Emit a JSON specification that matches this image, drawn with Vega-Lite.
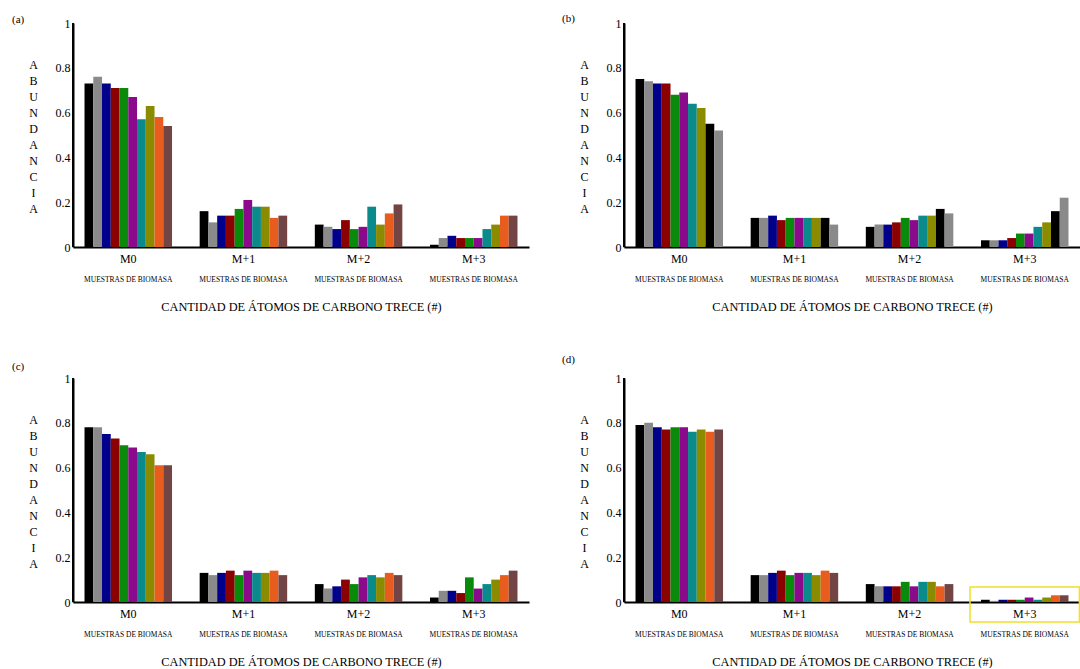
{
  "$schema": "https://vega.github.io/schema/vega-lite/v6.json",
  "background": "white",
  "padding": {"left": 12, "top": 12, "right": 0, "bottom": 0},
  "config": {
    "font": "Liberation Serif",
    "view": {"stroke": null},
    "axis": {"grid": false}
  },
  "datasets": {
    "a": [
      {"grupo": "M0", "muestra": 1, "abundancia": 0.73}, {"grupo": "M0", "muestra": 2, "abundancia": 0.76}, {"grupo": "M0", "muestra": 3, "abundancia": 0.73}, {"grupo": "M0", "muestra": 4, "abundancia": 0.71}, {"grupo": "M0", "muestra": 5, "abundancia": 0.71}, {"grupo": "M0", "muestra": 6, "abundancia": 0.67}, {"grupo": "M0", "muestra": 7, "abundancia": 0.57}, {"grupo": "M0", "muestra": 8, "abundancia": 0.63}, {"grupo": "M0", "muestra": 9, "abundancia": 0.58}, {"grupo": "M0", "muestra": 10, "abundancia": 0.54},
      {"grupo": "M+1", "muestra": 1, "abundancia": 0.16}, {"grupo": "M+1", "muestra": 2, "abundancia": 0.11}, {"grupo": "M+1", "muestra": 3, "abundancia": 0.14}, {"grupo": "M+1", "muestra": 4, "abundancia": 0.14}, {"grupo": "M+1", "muestra": 5, "abundancia": 0.17}, {"grupo": "M+1", "muestra": 6, "abundancia": 0.21}, {"grupo": "M+1", "muestra": 7, "abundancia": 0.18}, {"grupo": "M+1", "muestra": 8, "abundancia": 0.18}, {"grupo": "M+1", "muestra": 9, "abundancia": 0.13}, {"grupo": "M+1", "muestra": 10, "abundancia": 0.14},
      {"grupo": "M+2", "muestra": 1, "abundancia": 0.10}, {"grupo": "M+2", "muestra": 2, "abundancia": 0.09}, {"grupo": "M+2", "muestra": 3, "abundancia": 0.08}, {"grupo": "M+2", "muestra": 4, "abundancia": 0.12}, {"grupo": "M+2", "muestra": 5, "abundancia": 0.08}, {"grupo": "M+2", "muestra": 6, "abundancia": 0.09}, {"grupo": "M+2", "muestra": 7, "abundancia": 0.18}, {"grupo": "M+2", "muestra": 8, "abundancia": 0.10}, {"grupo": "M+2", "muestra": 9, "abundancia": 0.15}, {"grupo": "M+2", "muestra": 10, "abundancia": 0.19},
      {"grupo": "M+3", "muestra": 1, "abundancia": 0.01}, {"grupo": "M+3", "muestra": 2, "abundancia": 0.04}, {"grupo": "M+3", "muestra": 3, "abundancia": 0.05}, {"grupo": "M+3", "muestra": 4, "abundancia": 0.04}, {"grupo": "M+3", "muestra": 5, "abundancia": 0.04}, {"grupo": "M+3", "muestra": 6, "abundancia": 0.04}, {"grupo": "M+3", "muestra": 7, "abundancia": 0.08}, {"grupo": "M+3", "muestra": 8, "abundancia": 0.10}, {"grupo": "M+3", "muestra": 9, "abundancia": 0.14}, {"grupo": "M+3", "muestra": 10, "abundancia": 0.14}
    ],
    "b": [
      {"grupo": "M0", "muestra": 1, "abundancia": 0.75}, {"grupo": "M0", "muestra": 2, "abundancia": 0.74}, {"grupo": "M0", "muestra": 3, "abundancia": 0.73}, {"grupo": "M0", "muestra": 4, "abundancia": 0.73}, {"grupo": "M0", "muestra": 5, "abundancia": 0.68}, {"grupo": "M0", "muestra": 6, "abundancia": 0.69}, {"grupo": "M0", "muestra": 7, "abundancia": 0.64}, {"grupo": "M0", "muestra": 8, "abundancia": 0.62}, {"grupo": "M0", "muestra": 9, "abundancia": 0.55}, {"grupo": "M0", "muestra": 10, "abundancia": 0.52},
      {"grupo": "M+1", "muestra": 1, "abundancia": 0.13}, {"grupo": "M+1", "muestra": 2, "abundancia": 0.13}, {"grupo": "M+1", "muestra": 3, "abundancia": 0.14}, {"grupo": "M+1", "muestra": 4, "abundancia": 0.12}, {"grupo": "M+1", "muestra": 5, "abundancia": 0.13}, {"grupo": "M+1", "muestra": 6, "abundancia": 0.13}, {"grupo": "M+1", "muestra": 7, "abundancia": 0.13}, {"grupo": "M+1", "muestra": 8, "abundancia": 0.13}, {"grupo": "M+1", "muestra": 9, "abundancia": 0.13}, {"grupo": "M+1", "muestra": 10, "abundancia": 0.10},
      {"grupo": "M+2", "muestra": 1, "abundancia": 0.09}, {"grupo": "M+2", "muestra": 2, "abundancia": 0.10}, {"grupo": "M+2", "muestra": 3, "abundancia": 0.10}, {"grupo": "M+2", "muestra": 4, "abundancia": 0.11}, {"grupo": "M+2", "muestra": 5, "abundancia": 0.13}, {"grupo": "M+2", "muestra": 6, "abundancia": 0.12}, {"grupo": "M+2", "muestra": 7, "abundancia": 0.14}, {"grupo": "M+2", "muestra": 8, "abundancia": 0.14}, {"grupo": "M+2", "muestra": 9, "abundancia": 0.17}, {"grupo": "M+2", "muestra": 10, "abundancia": 0.15},
      {"grupo": "M+3", "muestra": 1, "abundancia": 0.03}, {"grupo": "M+3", "muestra": 2, "abundancia": 0.03}, {"grupo": "M+3", "muestra": 3, "abundancia": 0.03}, {"grupo": "M+3", "muestra": 4, "abundancia": 0.04}, {"grupo": "M+3", "muestra": 5, "abundancia": 0.06}, {"grupo": "M+3", "muestra": 6, "abundancia": 0.06}, {"grupo": "M+3", "muestra": 7, "abundancia": 0.09}, {"grupo": "M+3", "muestra": 8, "abundancia": 0.11}, {"grupo": "M+3", "muestra": 9, "abundancia": 0.16}, {"grupo": "M+3", "muestra": 10, "abundancia": 0.22}
    ],
    "c": [
      {"grupo": "M0", "muestra": 1, "abundancia": 0.78}, {"grupo": "M0", "muestra": 2, "abundancia": 0.78}, {"grupo": "M0", "muestra": 3, "abundancia": 0.75}, {"grupo": "M0", "muestra": 4, "abundancia": 0.73}, {"grupo": "M0", "muestra": 5, "abundancia": 0.70}, {"grupo": "M0", "muestra": 6, "abundancia": 0.69}, {"grupo": "M0", "muestra": 7, "abundancia": 0.67}, {"grupo": "M0", "muestra": 8, "abundancia": 0.66}, {"grupo": "M0", "muestra": 9, "abundancia": 0.61}, {"grupo": "M0", "muestra": 10, "abundancia": 0.61},
      {"grupo": "M+1", "muestra": 1, "abundancia": 0.13}, {"grupo": "M+1", "muestra": 2, "abundancia": 0.12}, {"grupo": "M+1", "muestra": 3, "abundancia": 0.13}, {"grupo": "M+1", "muestra": 4, "abundancia": 0.14}, {"grupo": "M+1", "muestra": 5, "abundancia": 0.12}, {"grupo": "M+1", "muestra": 6, "abundancia": 0.14}, {"grupo": "M+1", "muestra": 7, "abundancia": 0.13}, {"grupo": "M+1", "muestra": 8, "abundancia": 0.13}, {"grupo": "M+1", "muestra": 9, "abundancia": 0.14}, {"grupo": "M+1", "muestra": 10, "abundancia": 0.12},
      {"grupo": "M+2", "muestra": 1, "abundancia": 0.08}, {"grupo": "M+2", "muestra": 2, "abundancia": 0.06}, {"grupo": "M+2", "muestra": 3, "abundancia": 0.07}, {"grupo": "M+2", "muestra": 4, "abundancia": 0.10}, {"grupo": "M+2", "muestra": 5, "abundancia": 0.08}, {"grupo": "M+2", "muestra": 6, "abundancia": 0.11}, {"grupo": "M+2", "muestra": 7, "abundancia": 0.12}, {"grupo": "M+2", "muestra": 8, "abundancia": 0.11}, {"grupo": "M+2", "muestra": 9, "abundancia": 0.13}, {"grupo": "M+2", "muestra": 10, "abundancia": 0.12},
      {"grupo": "M+3", "muestra": 1, "abundancia": 0.02}, {"grupo": "M+3", "muestra": 2, "abundancia": 0.05}, {"grupo": "M+3", "muestra": 3, "abundancia": 0.05}, {"grupo": "M+3", "muestra": 4, "abundancia": 0.04}, {"grupo": "M+3", "muestra": 5, "abundancia": 0.11}, {"grupo": "M+3", "muestra": 6, "abundancia": 0.06}, {"grupo": "M+3", "muestra": 7, "abundancia": 0.08}, {"grupo": "M+3", "muestra": 8, "abundancia": 0.10}, {"grupo": "M+3", "muestra": 9, "abundancia": 0.12}, {"grupo": "M+3", "muestra": 10, "abundancia": 0.14}
    ],
    "d": [
      {"grupo": "M0", "muestra": 1, "abundancia": 0.79}, {"grupo": "M0", "muestra": 2, "abundancia": 0.80}, {"grupo": "M0", "muestra": 3, "abundancia": 0.78}, {"grupo": "M0", "muestra": 4, "abundancia": 0.77}, {"grupo": "M0", "muestra": 5, "abundancia": 0.78}, {"grupo": "M0", "muestra": 6, "abundancia": 0.78}, {"grupo": "M0", "muestra": 7, "abundancia": 0.76}, {"grupo": "M0", "muestra": 8, "abundancia": 0.77}, {"grupo": "M0", "muestra": 9, "abundancia": 0.76}, {"grupo": "M0", "muestra": 10, "abundancia": 0.77},
      {"grupo": "M+1", "muestra": 1, "abundancia": 0.12}, {"grupo": "M+1", "muestra": 2, "abundancia": 0.12}, {"grupo": "M+1", "muestra": 3, "abundancia": 0.13}, {"grupo": "M+1", "muestra": 4, "abundancia": 0.14}, {"grupo": "M+1", "muestra": 5, "abundancia": 0.12}, {"grupo": "M+1", "muestra": 6, "abundancia": 0.13}, {"grupo": "M+1", "muestra": 7, "abundancia": 0.13}, {"grupo": "M+1", "muestra": 8, "abundancia": 0.12}, {"grupo": "M+1", "muestra": 9, "abundancia": 0.14}, {"grupo": "M+1", "muestra": 10, "abundancia": 0.13},
      {"grupo": "M+2", "muestra": 1, "abundancia": 0.08}, {"grupo": "M+2", "muestra": 2, "abundancia": 0.07}, {"grupo": "M+2", "muestra": 3, "abundancia": 0.07}, {"grupo": "M+2", "muestra": 4, "abundancia": 0.07}, {"grupo": "M+2", "muestra": 5, "abundancia": 0.09}, {"grupo": "M+2", "muestra": 6, "abundancia": 0.07}, {"grupo": "M+2", "muestra": 7, "abundancia": 0.09}, {"grupo": "M+2", "muestra": 8, "abundancia": 0.09}, {"grupo": "M+2", "muestra": 9, "abundancia": 0.07}, {"grupo": "M+2", "muestra": 10, "abundancia": 0.08},
      {"grupo": "M+3", "muestra": 1, "abundancia": 0.01}, {"grupo": "M+3", "muestra": 2, "abundancia": 0.005}, {"grupo": "M+3", "muestra": 3, "abundancia": 0.01}, {"grupo": "M+3", "muestra": 4, "abundancia": 0.01}, {"grupo": "M+3", "muestra": 5, "abundancia": 0.01}, {"grupo": "M+3", "muestra": 6, "abundancia": 0.02}, {"grupo": "M+3", "muestra": 7, "abundancia": 0.01}, {"grupo": "M+3", "muestra": 8, "abundancia": 0.02}, {"grupo": "M+3", "muestra": 9, "abundancia": 0.03}, {"grupo": "M+3", "muestra": 10, "abundancia": 0.03}
    ],
    "resaltado": [
      {"grupo": "M+3", "abundancia": 0.067, "hasta": -0.089}
    ]
  },
  "columns": 2,
  "bounds": "flush",
  "spacing": {"row": 131, "column": 95},
  "resolve": {"scale": {"color": "independent"}},
  "concat": [
    {
      "title": {"text": "(a)", "anchor": "start", "frame": "group", "dx": -61, "offset": -8, "fontSize": 11, "fontWeight": "normal", "color": "black"},
      "width": 456, "height": 224,
      "data": {"name": "a"},
      "layer": [
        {
          "mark": {"type": "bar"},
          "encoding": {
            "x": {"field": "grupo", "type": "nominal", "sort": ["M0", "M+1", "M+2", "M+3"], "scale": {"paddingInner": 0.24, "paddingOuter": 0.1},
                  "axis": {"title": null, "orient": "bottom", "domainColor": "black", "domainWidth": 2, "ticks": false, "labelFontSize": 12, "labelPadding": 6, "labelAngle": 0, "labelColor": "black"}},
            "xOffset": {"field": "muestra", "type": "ordinal", "scale": {"paddingInner": 0, "paddingOuter": 0}},
            "y": {"field": "abundancia", "type": "quantitative", "scale": {"domain": [0, 1], "nice": false},
                  "axis": {"title": ["A", "B", "U", "N", "D", "A", "N", "C", "I", "A"], "titleAngle": 0, "titleAlign": "center", "titleBaseline": "middle", "titleFontSize": 12, "titleFontWeight": "normal", "titleLineHeight": 16, "titleX": -40, "titleY": 41, "titleColor": "black", "values": [0, 0.2, 0.4, 0.6, 0.8, 1], "format": "~g", "labelFontSize": 12, "labelColor": "black", "labelPadding": 3, "ticks": false, "domain": true, "domainColor": "black", "domainWidth": 2}},
            "color": {"field": "muestra", "type": "ordinal", "legend": null, "scale": {"domain": [1, 2, 3, 4, 5, 6, 7, 8, 9, 10], "range": ["#000000", "#8a8a8a", "#00008b", "#8b0000", "#0a8a0a", "#8b0a8b", "#0a8a8a", "#8b8b00", "#e85c1e", "#734444"]}}
          }
        },
        {
          "mark": {"type": "rule", "opacity": 0},
          "encoding": {
            "x": {"field": "grupo", "type": "nominal", "sort": ["M0", "M+1", "M+2", "M+3"],
                  "axis": {"orient": "bottom", "domain": false, "ticks": false, "labelExpr": "'MUESTRAS DE BIOMASA'", "labelFontSize": 7.5, "labelPadding": 28, "labelAngle": 0, "labelOverlap": false, "labelColor": "black", "title": "CANTIDAD DE ÁTOMOS DE CARBONO TRECE (#)", "titleFontSize": 12.3, "titleFontWeight": "normal", "titlePadding": 18, "titleColor": "black"}}
          }
        },
        {
          "mark": {"type": "rect", "color": "black"},
          "encoding": {"x": {"value": -1}, "x2": {"value": 1}}
        }
      ],
      "resolve": {"axis": {"x": "independent"}}
    },
    {
      "title": {"text": "(b)", "anchor": "start", "frame": "group", "dx": -62, "offset": -6.5, "fontSize": 11, "fontWeight": "normal", "color": "black"},
      "width": 456, "height": 224,
      "data": {"name": "b"},
      "layer": [
        {
          "mark": {"type": "bar"},
          "encoding": {
            "x": {"field": "grupo", "type": "nominal", "sort": ["M0", "M+1", "M+2", "M+3"], "scale": {"paddingInner": 0.24, "paddingOuter": 0.1},
                  "axis": {"title": null, "orient": "bottom", "domainColor": "black", "domainWidth": 2, "ticks": false, "labelFontSize": 12, "labelPadding": 6, "labelAngle": 0, "labelColor": "black"}},
            "xOffset": {"field": "muestra", "type": "ordinal", "scale": {"paddingInner": 0, "paddingOuter": 0}},
            "y": {"field": "abundancia", "type": "quantitative", "scale": {"domain": [0, 1], "nice": false},
                  "axis": {"title": ["A", "B", "U", "N", "D", "A", "N", "C", "I", "A"], "titleAngle": 0, "titleAlign": "center", "titleBaseline": "middle", "titleFontSize": 12, "titleFontWeight": "normal", "titleLineHeight": 16, "titleX": -40, "titleY": 41, "titleColor": "black", "values": [0, 0.2, 0.4, 0.6, 0.8, 1], "format": "~g", "labelFontSize": 12, "labelColor": "black", "labelPadding": 3, "ticks": false, "domain": true, "domainColor": "black", "domainWidth": 2}},
            "color": {"field": "muestra", "type": "ordinal", "legend": null, "scale": {"domain": [1, 2, 3, 4, 5, 6, 7, 8, 9, 10], "range": ["#000000", "#8a8a8a", "#00008b", "#8b0000", "#0a8a0a", "#8b0a8b", "#0a8a8a", "#8b8b00", "#000000", "#8a8a8a"]}}
          }
        },
        {
          "mark": {"type": "rule", "opacity": 0},
          "encoding": {
            "x": {"field": "grupo", "type": "nominal", "sort": ["M0", "M+1", "M+2", "M+3"],
                  "axis": {"orient": "bottom", "domain": false, "ticks": false, "labelExpr": "'MUESTRAS DE BIOMASA'", "labelFontSize": 7.5, "labelPadding": 28, "labelAngle": 0, "labelOverlap": false, "labelColor": "black", "title": "CANTIDAD DE ÁTOMOS DE CARBONO TRECE (#)", "titleFontSize": 12.3, "titleFontWeight": "normal", "titlePadding": 18, "titleColor": "black"}}
          }
        },
        {
          "mark": {"type": "rect", "color": "black"},
          "encoding": {"x": {"value": -1}, "x2": {"value": 1}}
        }
      ],
      "resolve": {"axis": {"x": "independent"}}
    },
    {
      "title": {"text": "(c)", "anchor": "start", "frame": "group", "dx": -61, "offset": 0.5, "fontSize": 11, "fontWeight": "normal", "color": "black"},
      "width": 456, "height": 224,
      "data": {"name": "c"},
      "layer": [
        {
          "mark": {"type": "bar"},
          "encoding": {
            "x": {"field": "grupo", "type": "nominal", "sort": ["M0", "M+1", "M+2", "M+3"], "scale": {"paddingInner": 0.24, "paddingOuter": 0.1},
                  "axis": {"title": null, "orient": "bottom", "domainColor": "black", "domainWidth": 2, "ticks": false, "labelFontSize": 12, "labelPadding": 6, "labelAngle": 0, "labelColor": "black"}},
            "xOffset": {"field": "muestra", "type": "ordinal", "scale": {"paddingInner": 0, "paddingOuter": 0}},
            "y": {"field": "abundancia", "type": "quantitative", "scale": {"domain": [0, 1], "nice": false},
                  "axis": {"title": ["A", "B", "U", "N", "D", "A", "N", "C", "I", "A"], "titleAngle": 0, "titleAlign": "center", "titleBaseline": "middle", "titleFontSize": 12, "titleFontWeight": "normal", "titleLineHeight": 16, "titleX": -40, "titleY": 41, "titleColor": "black", "values": [0, 0.2, 0.4, 0.6, 0.8, 1], "format": "~g", "labelFontSize": 12, "labelColor": "black", "labelPadding": 3, "ticks": false, "domain": true, "domainColor": "black", "domainWidth": 2}},
            "color": {"field": "muestra", "type": "ordinal", "legend": null, "scale": {"domain": [1, 2, 3, 4, 5, 6, 7, 8, 9, 10], "range": ["#000000", "#8a8a8a", "#00008b", "#8b0000", "#0a8a0a", "#8b0a8b", "#0a8a8a", "#8b8b00", "#e85c1e", "#734444"]}}
          }
        },
        {
          "mark": {"type": "rule", "opacity": 0},
          "encoding": {
            "x": {"field": "grupo", "type": "nominal", "sort": ["M0", "M+1", "M+2", "M+3"],
                  "axis": {"orient": "bottom", "domain": false, "ticks": false, "labelExpr": "'MUESTRAS DE BIOMASA'", "labelFontSize": 7.5, "labelPadding": 28, "labelAngle": 0, "labelOverlap": false, "labelColor": "black", "title": "CANTIDAD DE ÁTOMOS DE CARBONO TRECE (#)", "titleFontSize": 12.3, "titleFontWeight": "normal", "titlePadding": 18, "titleColor": "black"}}
          }
        },
        {
          "mark": {"type": "rect", "color": "black"},
          "encoding": {"x": {"value": -1}, "x2": {"value": 1}}
        }
      ],
      "resolve": {"axis": {"x": "independent"}}
    },
    {
      "title": {"text": "(d)", "anchor": "start", "frame": "group", "dx": -62, "offset": 7.5, "fontSize": 11, "fontWeight": "normal", "color": "black"},
      "width": 456, "height": 224,
      "layer": [
        {
          "data": {"name": "d"},
          "mark": {"type": "bar"},
          "encoding": {
            "x": {"field": "grupo", "type": "nominal", "sort": ["M0", "M+1", "M+2", "M+3"], "scale": {"paddingInner": 0.24, "paddingOuter": 0.1},
                  "axis": {"title": null, "orient": "bottom", "domainColor": "black", "domainWidth": 2, "ticks": false, "labelFontSize": 12, "labelPadding": 6, "labelAngle": 0, "labelColor": "black"}},
            "xOffset": {"field": "muestra", "type": "ordinal", "scale": {"paddingInner": 0, "paddingOuter": 0}},
            "y": {"field": "abundancia", "type": "quantitative", "scale": {"domain": [0, 1], "nice": false},
                  "axis": {"title": ["A", "B", "U", "N", "D", "A", "N", "C", "I", "A"], "titleAngle": 0, "titleAlign": "center", "titleBaseline": "middle", "titleFontSize": 12, "titleFontWeight": "normal", "titleLineHeight": 16, "titleX": -40, "titleY": 41, "titleColor": "black", "values": [0, 0.2, 0.4, 0.6, 0.8, 1], "format": "~g", "labelFontSize": 12, "labelColor": "black", "labelPadding": 3, "ticks": false, "domain": true, "domainColor": "black", "domainWidth": 2}},
            "color": {"field": "muestra", "type": "ordinal", "legend": null, "scale": {"domain": [1, 2, 3, 4, 5, 6, 7, 8, 9, 10], "range": ["#000000", "#8a8a8a", "#00008b", "#8b0000", "#0a8a0a", "#8b0a8b", "#0a8a8a", "#8b8b00", "#e85c1e", "#734444"]}}
          }
        },
        {
          "data": {"name": "d"},
          "mark": {"type": "rule", "opacity": 0},
          "encoding": {
            "x": {"field": "grupo", "type": "nominal", "sort": ["M0", "M+1", "M+2", "M+3"],
                  "axis": {"orient": "bottom", "domain": false, "ticks": false, "labelExpr": "'MUESTRAS DE BIOMASA'", "labelFontSize": 7.5, "labelPadding": 28, "labelAngle": 0, "labelOverlap": false, "labelColor": "black", "title": "CANTIDAD DE ÁTOMOS DE CARBONO TRECE (#)", "titleFontSize": 12.3, "titleFontWeight": "normal", "titlePadding": 18, "titleColor": "black"}}
          }
        },
        {
          "data": {"name": "resaltado"},
          "mark": {"type": "rect", "color": "black"},
          "encoding": {"x": {"value": -1}, "x2": {"value": 1}}
        },
        {
          "data": {"name": "resaltado"},
          "mark": {"type": "bar", "fill": null, "fillOpacity": 0, "stroke": "#f0e02a", "strokeWidth": 1.5, "width": {"band": 1.25}},
          "encoding": {
            "x": {"field": "grupo", "type": "nominal", "sort": ["M0", "M+1", "M+2", "M+3"], "axis": null},
            "y": {"field": "abundancia", "type": "quantitative"},
            "y2": {"field": "hasta"}
          }
        }
      ],
      "resolve": {"axis": {"x": "independent"}}
    }
  ]
}
